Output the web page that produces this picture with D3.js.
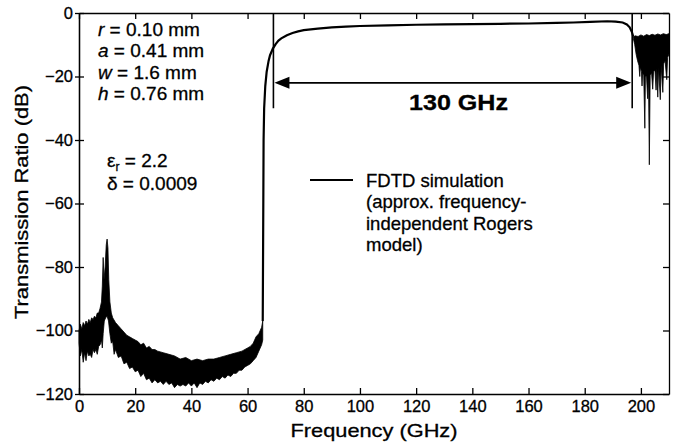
<!DOCTYPE html>
<html>
<head>
<meta charset="utf-8">
<title>FDTD transmission ratio</title>
<script src="https://cdn.jsdelivr.net/npm/d3@7/dist/d3.min.js"></script>
<style>
  body { margin: 0; background: #fff; }
  text { font-family: "Liberation Sans", Arial, Helvetica, sans-serif; fill: #000; stroke: #000; stroke-width: 0.3; }
  .axis path, .axis line { stroke: #000; stroke-width: 1.3; }
  .axis text { font-size: 16.5px; }
</style>
</head>
<body>
<script>
// ticks
var freqTicks = [0, 20, 40, 60, 80, 100, 120, 140, 160, 180, 200];
var dbTicks = [0, -20, -40, -60, -80, -100, -120];

// stop band noise (0 - 65 GHz): upper and lower edge of the noisy trace [GHz, dB]
var stopTop = [[0,-100],[0.5,-98],[1,-99.5],[1.5,-97.5],[2,-98.5],[2.5,-97],[3,-98],[3.5,-96.5],
  [4,-97.5],[4.5,-96],[5,-96.5],[5.5,-95.5],[6,-96],[6.5,-94.5],[7,-94.5],[7.5,-93],[8,-91],
  [8.3,-86],[8.6,-77],[8.9,-84],[9.3,-80],[9.7,-73],[10,-71.2],[10.3,-74],[10.6,-84],[11,-91],
  [11.5,-94.5],[12,-96],[13,-97.5],[14,-98.5],[15,-99.5],[16,-100.5],[17,-101.5],[18,-102],
  [19,-102.5],[20,-103],[21,-103.5],[22,-104.5],[23,-104],[24,-105.5],[25,-105],[26,-106],
  [27,-106],[28,-106.5],[30,-107],[32,-107.5],[34,-108],[36,-109],[38,-108.5],[40,-109.5],
  [42,-109],[44,-109.5],[46,-109],[48,-109],[50,-108.5],[52,-108],[54,-107.5],[56,-107],
  [58,-106.5],[60,-105.5],[61,-105],[62,-104],[63,-102],[64,-101],[65,-99],[65.4,-97]];
var stopBottom = [[0,-104],[0.5,-108],[1,-106],[1.5,-110],[2,-107],[2.5,-109.5],[3,-106.5],
  [3.5,-108],[4,-107.5],[4.5,-108.5],[5,-106],[5.5,-107],[6,-106],[6.5,-107.5],[7,-105],
  [7.5,-104.5],[8,-103],[8.3,-105.5],[8.6,-101],[9,-97],[9.5,-96],[10,-95.5],[10.5,-97],
  [11,-101],[11.5,-104],[12,-103.5],[12.5,-107.5],[13,-106],[14,-108.5],[15,-108],[16,-110.5],
  [17,-110],[18,-112],[19,-111.5],[20,-113],[21,-112.5],[22,-114.5],[23,-113.5],[24,-115.5],
  [25,-115],[26,-116.5],[27,-115.5],[28,-116.5],[29,-116],[30,-117],[31,-116],[32,-117],
  [33,-116.5],[34,-118],[35,-117],[36,-117.5],[37,-117],[38,-117.5],[39,-116.5],[40,-117.5],
  [41,-116.5],[42,-118],[43,-116.5],[44,-117],[45,-116],[46,-116.5],[47,-115.5],[48,-116],
  [49,-115],[50,-115.5],[51,-114.5],[52,-115],[53,-114],[54,-114.5],[55,-113.5],[56,-113.5],
  [57,-112.5],[58,-112.5],[59,-111.5],[60,-111],[61,-110.5],[62,-109.5],[63,-108.5],
  [64,-106.5],[65,-104.5],[65.4,-103]];

// pass band (smooth part of the trace)
var passBand = [[65.4,-97],[65.6,-60],[65.7,-40],[65.9,-30],[66.3,-23],[66.8,-18.5],[67.5,-15],
  [68,-13.3],[69,-11.2],[70,-9.8],[71,-8.7],[72,-8],[74,-7],[76,-6.3],[78,-5.8],[80,-5.4],
  [85,-4.9],[90,-4.5],[95,-4.3],[100,-4.1],[110,-3.9],[120,-3.7],[130,-3.6],[140,-3.5],
  [150,-3.4],[160,-3.3],[170,-3.1],[176,-3.0],[182,-2.8],[188,-2.6],[191,-2.7],[193.5,-3.0],
  [195,-3.6],[196,-4.5],[196.8,-6],[197.3,-7.5]];

// upper stop band noise (197 - 210 GHz)
var highTop = [[197.3,-7.5],[198,-7.2],[199,-7.4],[200,-6.9],[201,-7.3],[202,-6.8],[203,-7.1],
  [204,-6.7],[205,-7],[206,-6.6],[207,-6.9],[208,-6.5],[209,-6.8],[210,-6.5]];
var highBottom = [[197.3,-8],[197.8,-10],[198.3,-13],[198.8,-15],[199.3,-16.5],[199.6,-20],
  [199.8,-17],[200.2,-18.5],[200.4,-23],[200.6,-19],[201,-19.5],[201.4,-36.3],[201.6,-20],
  [202,-20],[202.4,-27],[202.7,-20],[203,-47.8],[203.3,-19.5],[203.8,-19],[204.2,-24],
  [204.5,-18.5],[205,-18],[205.4,-24.3],[205.7,-17.5],[206,-26.5],[206.3,-17],[206.9,-27.3],
  [207.2,-16.5],[207.8,-25],[208.1,-16],[208.6,-15],[209.2,-21],[209.5,-14],[210,-13]];

// band edge markers and 130 GHz arrow
var markerFreqs = [69.2, 196.9];
var markerBottomDb = -30;
var arrowDb = -22;

var params = [["r", " = 0.10 mm"], ["a", " = 0.41 mm"], ["w", " = 1.6 mm"], ["h", " = 0.76 mm"]];
var legendLines = ["FDTD simulation", "(approx. frequency-", "independent Rogers", "model)"];

var margin = {top: 13, right: 9, bottom: 53, left: 79},
    width = 678 - margin.left - margin.right,
    height = 447 - margin.top - margin.bottom;

var svg = d3.select("body").append("svg")
    .attr("width", 678)
    .attr("height", 447);
var g = svg.append("g")
    .attr("transform", "translate(" + margin.left + "," + margin.top + ")");

var x = d3.scaleLinear().domain([0, 210]).range([0, width]);
var y = d3.scaleLinear().domain([-120, 0]).range([height, 0]);

var line = d3.line()
    .x(function(d) { return x(d[0]); })
    .y(function(d) { return y(d[1]); });

// noisy regions as filled bands
[[stopTop, stopBottom], [highTop, highBottom]].forEach(function(b) {
  g.append("path")
    .attr("d", line(b[0].concat(b[1].slice().reverse())) + "Z")
    .attr("fill", "#000")
    .attr("stroke", "#000")
    .attr("stroke-width", 0.8)
    .attr("stroke-linejoin", "miter");
});

g.append("path")
  .datum(passBand)
  .attr("d", line)
  .attr("fill", "none")
  .attr("stroke", "#000")
  .attr("stroke-width", 2.2);

// axes
g.append("g").attr("class", "axis")
  .attr("transform", "translate(0," + height + ")")
  .call(d3.axisBottom(x).tickValues(freqTicks).tickSizeInner(-6).tickSizeOuter(0).tickPadding(6));
g.append("g").attr("class", "axis")
  .call(d3.axisTop(x).tickValues(freqTicks).tickSizeInner(-6).tickSizeOuter(0).tickFormat(""));
g.append("g").attr("class", "axis")
  .call(d3.axisLeft(y).tickValues(dbTicks).tickSizeInner(4).tickSizeOuter(0).tickPadding(2));
g.append("g").attr("class", "axis")
  .call(d3.axisLeft(y).tickValues(dbTicks).tickSizeInner(-5).tickSizeOuter(0).tickFormat(""));
g.append("g").attr("class", "axis")
  .attr("transform", "translate(" + width + ",0)")
  .call(d3.axisRight(y).tickValues(dbTicks).tickSizeInner(-6).tickSizeOuter(0).tickFormat(""));

// axis titles
svg.append("text")
  .attr("x", 374).attr("y", 437)
  .attr("text-anchor", "middle")
  .attr("font-size", 19)
  .attr("textLength", 167).attr("lengthAdjust", "spacingAndGlyphs")
  .text("Frequency (GHz)");
svg.append("text")
  .attr("transform", "translate(28,202) rotate(-90)")
  .attr("text-anchor", "middle")
  .attr("font-size", 19)
  .attr("textLength", 234).attr("lengthAdjust", "spacingAndGlyphs")
  .text("Transmission Ratio (dB)");

// band edge markers
markerFreqs.forEach(function(f) {
  g.append("line")
    .attr("x1", x(f)).attr("x2", x(f))
    .attr("y1", y(0)).attr("y2", y(markerBottomDb))
    .attr("stroke", "#000").attr("stroke-width", 1.6);
});
var ax1 = x(markerFreqs[0]) + 1, ax2 = x(markerFreqs[1]) - 1, ay = y(arrowDb);
g.append("line")
  .attr("x1", ax1 + 10).attr("x2", ax2 - 10)
  .attr("y1", ay).attr("y2", ay)
  .attr("stroke", "#000").attr("stroke-width", 1.8);
g.append("path")
  .attr("d", "M" + ax1 + "," + ay + "L" + (ax1 + 15) + "," + (ay - 6) + "L" + (ax1 + 15) + "," + (ay + 6) + "Z")
  .attr("fill", "#000");
g.append("path")
  .attr("d", "M" + ax2 + "," + ay + "L" + (ax2 - 15) + "," + (ay - 6) + "L" + (ax2 - 15) + "," + (ay + 6) + "Z")
  .attr("fill", "#000");
svg.append("text")
  .attr("x", 409).attr("y", 110)
  .attr("font-size", 22).attr("font-weight", "bold")
  .attr("textLength", 99).attr("lengthAdjust", "spacingAndGlyphs")
  .text("130 GHz");

// geometry parameters
params.forEach(function(p, i) {
  var t = svg.append("text")
    .attr("x", 98).attr("y", 36 + i * 21.3)
    .attr("font-size", 19);
  t.append("tspan").attr("font-style", "italic").text(p[0]);
  t.append("tspan").text(p[1]);
});
var eps = svg.append("text").attr("x", 107).attr("y", 167).attr("font-size", 19);
eps.append("tspan").text("\u03b5");
eps.append("tspan").attr("font-size", 12).attr("dy", 4).text("r");
eps.append("tspan").attr("dy", -4).text(" = 2.2");
svg.append("text").attr("x", 107).attr("y", 190).attr("font-size", 19)
  .text("\u03b4 = 0.0009");

// legend
svg.append("line")
  .attr("x1", 310).attr("x2", 353).attr("y1", 180).attr("y2", 180)
  .attr("stroke", "#000").attr("stroke-width", 2);
legendLines.forEach(function(s, i) {
  svg.append("text")
    .attr("x", 366).attr("y", 186.5 + i * 21.5)
    .attr("font-size", 18.5)
    .text(s);
});
</script>
</body>
</html>
